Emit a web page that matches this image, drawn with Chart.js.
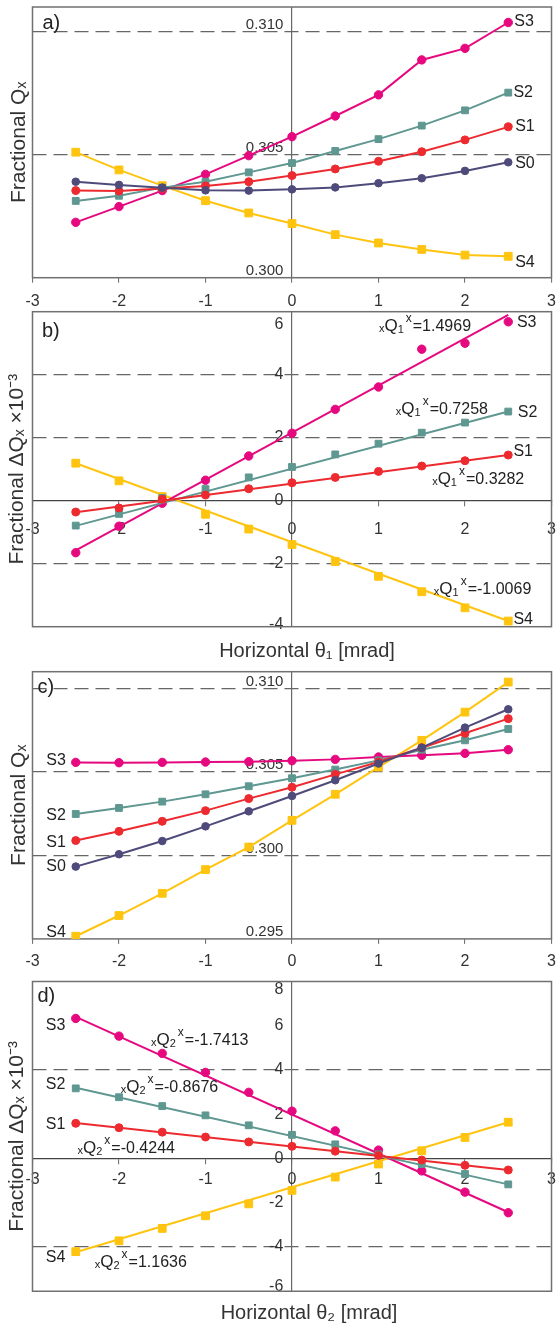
<!DOCTYPE html>
<html><head><meta charset="utf-8">
<script src="https://cdn.jsdelivr.net/npm/chart.js@4.4.1/dist/chart.umd.min.js"></script>
<style>
html,body{margin:0;padding:0;background:#fff;}
#wrap{position:relative;width:558px;height:1327px;overflow:hidden;}
canvas{position:absolute;left:0;top:0;}
</style></head><body>
<div id="wrap">
<canvas id="ca" width="558" height="1327"></canvas>
<canvas id="cb" width="558" height="1327"></canvas>
<canvas id="cc" width="558" height="1327"></canvas>
<canvas id="cd" width="558" height="1327"></canvas>
</div>
<script>
// ---------- data ----------
const theta = [-2.5,-2,-1.5,-1,-0.5,0,0.5,1,1.5,2,2.5];
const xTicks = [-3,-2,-1,0,1,2,3];
const xTickLabels = ['-3','-2','-1','0','1','2','3'];

// a) fractional Qx vs theta1
const a_S0 = [0.30390,0.30377,0.30366,0.30355,0.30354,0.30359,0.30367,0.30384,0.30404,0.30434,0.30469];
const a_S1 = [0.30354,0.30352,0.30362,0.30373,0.30390,0.30415,0.30442,0.30473,0.30512,0.30560,0.30613];
const a_S2 = [0.30312,0.30333,0.30366,0.30390,0.30428,0.30466,0.30515,0.30563,0.30618,0.30680,0.30752];
const a_S3 = [0.30225,0.30289,0.30354,0.30420,0.30496,0.30573,0.30657,0.30743,0.30885,0.30932,0.31037];
const a_S4 = [0.30510,0.30438,0.30374,0.30313,0.30263,0.30220,0.30175,0.30141,0.30115,0.30092,0.30087];
const aYTicks = [0.300,0.305,0.310];
const aYTickLabels = ['0.300','0.305','0.310'];

// b) delta Qx (x1e-3) vs theta1, with fitted lines (end values)
const b_S1 = [-0.36,-0.23,0.05,0.18,0.38,0.57,0.74,0.93,1.10,1.27,1.45];
const b_S2 = [-0.79,-0.42,0.09,0.37,0.74,1.07,1.47,1.81,2.16,2.48,2.83];
const b_S3 = [-1.65,-0.81,-0.08,0.65,1.42,2.14,2.90,3.61,4.81,5.00,5.68];
const b_S4 = [1.19,0.63,0.13,-0.43,-0.90,-1.39,-1.93,-2.40,-2.89,-3.40,-3.82];
const b_fit_S1 = [-0.37,1.45];
const b_fit_S2 = [-0.80,2.83];
const b_fit_S3 = [-1.58,5.90];
const b_fit_S4 = [1.19,-3.82];
const bSlopes = ['1.4969','0.7258','0.3282','-1.0069'];
const bYTicks = [-4,-2,0,2,4,6];
const bYTickLabels = ['-4','-2','0','2','4','6'];

// c) fractional Qx vs theta2
const c_S0 = [0.29933,0.30007,0.30086,0.30174,0.30264,0.30356,0.30450,0.30550,0.30645,0.30765,0.30875];
const c_S1 = [0.30089,0.30144,0.30204,0.30268,0.30340,0.30408,0.30485,0.30559,0.30645,0.30731,0.30819];
const c_S2 = [0.30248,0.30284,0.30322,0.30366,0.30414,0.30462,0.30514,0.30569,0.30633,0.30689,0.30757];
const c_S3 = [0.30557,0.30555,0.30557,0.30559,0.30561,0.30567,0.30575,0.30589,0.30599,0.30611,0.30633];
const c_S4 = [0.29516,0.29640,0.29773,0.29915,0.30050,0.30210,0.30366,0.30529,0.30689,0.30858,0.31038];
const cYTicks = [0.295,0.300,0.305,0.310];
const cYTickLabels = ['0.295','0.300','0.305','0.310'];

// d) delta Qx (x1e-3) vs theta2
const d_S1 = [1.59,1.39,1.19,0.97,0.75,0.55,0.33,0.14,-0.07,-0.31,-0.52];
const d_S2 = [3.17,2.77,2.37,1.95,1.50,1.07,0.64,0.19,-0.25,-0.70,-1.17];
const d_S3 = [6.33,5.53,4.75,3.89,2.99,2.14,1.25,0.38,-0.56,-1.52,-2.45];
const d_S4 = [-4.21,-3.72,-3.16,-2.59,-2.05,-1.44,-0.84,-0.25,0.35,0.95,1.64];
const d_fit_S1 = [1.60,-0.52];
const d_fit_S2 = [3.20,-1.17];
const d_fit_S3 = [6.40,-2.43];
const d_fit_S4 = [-4.24,1.64];
const dSlopes = ['-1.7413','-0.8676','-0.4244','1.1636'];
const dYTicks = [-6,-4,-2,0,2,4,6,8];
const dYTickLabels = ['-6','-4','-2','0','2','4','6','8'];

// ---------- styles ----------
const FONT = '"Liberation Sans", Arial, Helvetica, sans-serif';
Chart.defaults.font.family = FONT;
Chart.defaults.color = '#333';
const STY = {
  S0:{color:'#4e4b7b', style:'circle', r:3.8},
  S1:{color:'#ec2a2f', style:'circle', r:4},
  S2:{color:'#5f9791', style:'rect', r:4.8},
  S3:{color:'#e6087f', style:'circle', r:4.2},
  S4:{color:'#ffc40f', style:'rect', r:5.5}
};
const fitX = [theta[0], theta[theta.length-1]];

function zeroPad(s){ s.paddingLeft = 0; s.paddingRight = 0; s.paddingTop = 0; s.paddingBottom = 0; }

function drawAnno(ctx, x, yb, sub, val){
  const F = s => s + 'px ' + FONT;
  ctx.fillStyle = '#222';
  ctx.textAlign = 'left'; ctx.textBaseline = 'alphabetic';
  ctx.font = F(11); ctx.fillText('x', x, yb + 1);
  let cx = x + ctx.measureText('x').width;
  ctx.font = F(17); ctx.fillText('Q', cx, yb);
  cx += ctx.measureText('Q').width;
  ctx.font = F(11); ctx.fillText(sub, cx, yb + 2);
  cx += ctx.measureText(sub).width + 2;
  ctx.font = F(12); ctx.fillText('x', cx, yb - 9);
  cx += ctx.measureText('x').width + 1;
  ctx.font = F(16); ctx.fillText('=' + val, cx, yb);
}

const decor = {
  id:'decor',
  afterLayout(chart, args, o){
    if (o.xTitleShift && chart.scales.xt){ chart.scales.xt.left += o.xTitleShift; chart.scales.xt.right += o.xTitleShift; }
  },
  beforeDatasetsDraw(chart, args, o){
    const {ctx, chartArea:ca} = chart;
    ctx.save();
    ctx.strokeStyle = '#707070'; ctx.lineWidth = 1.5;
    ctx.strokeRect(ca.left, ca.top, ca.right - ca.left, ca.bottom - ca.top);
    ctx.restore();
  },
  afterDraw(chart, args, o){
    const {ctx, chartArea:ca, scales} = chart;
    const X = v => scales.x.getPixelForValue(v), Y = v => scales.y.getPixelForValue(v);
    ctx.save();
    ctx.fillStyle = '#222';
    ctx.font = '20px ' + FONT; ctx.textBaseline = 'middle'; ctx.textAlign = 'left';
    ctx.fillText(o.letter, ca.left + o.letterDx, ca.top + o.letterDy);
    ctx.font = '16px ' + FONT;
    (o.labels || []).forEach(l => { ctx.textAlign = l.align; ctx.textBaseline = 'middle'; ctx.fillText(l.text, X(l.x), Y(l.y)); });
    (o.annos || []).forEach(a => drawAnno(ctx, X(a.x), Y(a.y), a.sub, a.v));
    ctx.restore();
  }
};

function buildPanel(id, p){
  const datasets = [];
  p.series.forEach(s => {
    const st = STY[s.name];
    if (s.fit){
      datasets.push({data: fitX.map((t,i)=>({x:t, y:s.fit[i]})), showLine:true, borderColor:st.color, borderWidth:2, pointRadius:0, xAxisID:'x', yAxisID:'y'});
    }
    datasets.push({
      data: theta.map((t,i)=>({x:t, y:s.vals[i]})),
      showLine: !s.fit, borderColor: st.color, backgroundColor: st.color, borderWidth: 2,
      pointStyle: st.style, pointRadius: st.r, pointBorderColor: st.color, pointBackgroundColor: st.color,
      pointBorderWidth: 1, tension: 0, xAxisID:'x', yAxisID:'y'
    });
  });
  const nY = p.yTicks.length;
  const edge = p.yEdge || {top:0, bottom:0};
  const scales = {
    x: {
      type:'linear', axis:'x', min:-3, max:3,
      position: p.xCenter ? {y:0} : 'bottom',
      afterBuildTicks: s => { s.ticks = xTicks.map(v => ({value:v})); },
      afterFit: s => { zeroPad(s); if (!p.xCenter) s.height = p.boxBottom - p.bottom; },
      ticks:{autoSkip:false, maxRotation:0, padding:p.xPad, font:{size:16}, color:'#333', callback:(v,i)=>xTickLabels[i]},
      grid:{drawOnChartArea:true, color: c => (c.tick && c.tick.value === 0) ? '#666' : 'rgba(0,0,0,0)', lineWidth:1.2, drawTicks:true, tickLength:5, tickColor:'#666', tickWidth:1},
      border:{display: !!p.xCenter, color:'#444', width:1.3}
    },
    y: {
      type:'linear', axis:'y', min:p.yMin, max:p.yMax,
      position:{x:-0.1},
      afterBuildTicks: s => { s.ticks = p.yTicks.map(v => ({value:v})); },
      afterFit: zeroPad,
      ticks:{autoSkip:false, padding:0, labelOffset:p.yLabelOffset, color:'#333',
        font: c => {
          if (c.index === nY - 1 && edge.top) return {size:p.yFont, lineHeight:(2*edge.top) + 'px'};
          if (c.index === 0 && edge.bottom) return {size:p.yFont, lineHeight:(2*edge.bottom) + 'px'};
          return {size:p.yFont};
        },
        callback:(v,i)=>{
          const t = p.yTickLabels[i];
          if (i === nY - 1 && edge.top) return ['', t];
          if (i === 0 && edge.bottom) return [t, ''];
          return t;
        }},
      grid:{drawTicks:false, lineWidth:1.3, color: c => (c.tick && p.yDash.some(d => Math.abs(d - c.tick.value) < 1e-9)) ? '#666' : 'rgba(0,0,0,0)'},
      border:{display:false, dash:[14,7]}
    },
    yt: {
      type:'linear', axis:'y', position:'left', display:true,
      afterFit: s => { zeroPad(s); s.width = 32.5; },
      ticks:{display:false}, grid:{display:false}, border:{display:false},
      title:{display:true, text:p.yTitle, font:{size:21}, color:'#333', padding:{top:p.yTitlePad, bottom:0}}
    }
  };
  if (p.xTitle){
    scales.xt = {
      type:'linear', axis:'x', position:'bottom', display:true,
      afterFit: s => { zeroPad(s); s.height = p.boxBottom - p.bottom; },
      ticks:{display:false}, grid:{display:false}, border:{display:false},
      title:{display:true, text:p.xTitle, font:{size:20}, color:'#333', padding:{top:0, bottom:p.xTitlePad}}
    };
  }
  new Chart(document.getElementById(id), {
    type:'scatter',
    data:{datasets},
    options:{
      responsive:false, animation:false, devicePixelRatio:1,
      layout:{padding:{top:p.top, left:0, right:1.5, bottom:1327 - p.boxBottom}},
      scales,
      plugins:{legend:{display:false}, tooltip:{enabled:false},
        decor:{letter:p.letter, letterDx:p.letterDx, letterDy:p.letterDy, labels:p.labels, annos:p.annos, xTitleShift:p.xTitleShift||0}}
    },
    plugins:[decor]
  });
}

buildPanel('ca', {
  top:7, bottom:277.7, boxBottom:311, yMin:0.300, yMax:0.311,
  yTicks:aYTicks, yTickLabels:aYTickLabels, yDash:[0.305,0.310], yLabelOffset:-7, yFont:15,
  xCenter:false, xPad:9.4, yTitle:'Fractional Q\u2093', yTitlePad:7,
  letter:'a)', letterDx:10, letterDy:16,
  series:[{name:'S0',vals:a_S0},{name:'S1',vals:a_S1},{name:'S2',vals:a_S2},{name:'S3',vals:a_S3},{name:'S4',vals:a_S4}],
  labels:[
    {text:'S3', x:2.57, y:0.31041, align:'left'},
    {text:'S2', x:2.56, y:0.30754, align:'left'},
    {text:'S1', x:2.58, y:0.30614, align:'left'},
    {text:'S0', x:2.58, y:0.30465, align:'left'},
    {text:'S4', x:2.58, y:0.30061, align:'left'}
  ]
});

buildPanel('cb', {
  top:311.7, bottom:626.7, boxBottom:671, yMin:-4, yMax:6,
  yTicks:bYTicks, yTickLabels:bYTickLabels, yDash:[-2,2,4], yLabelOffset:0, yFont:16, yEdge:{top:13, bottom:2},
  xCenter:true, xPad:13.9, xTitle:'Horizontal \u03b8\u2081 [mrad]', xTitlePad:7.5, xTitleShift:15,
  yTitle:'Fractional \u0394Q\u2093 \u00d710\u207b\u00b3', yTitlePad:5,
  letter:'b)', letterDx:9.5, letterDy:20,
  series:[{name:'S1',vals:b_S1,fit:b_fit_S1},{name:'S2',vals:b_S2,fit:b_fit_S2},{name:'S3',vals:b_S3,fit:b_fit_S3},{name:'S4',vals:b_S4,fit:b_fit_S4}],
  labels:[
    {text:'S3', x:2.60, y:5.65, align:'left'},
    {text:'S2', x:2.61, y:2.81, align:'left'},
    {text:'S1', x:2.56, y:1.55, align:'left'},
    {text:'S4', x:2.56, y:-3.79, align:'left'}
  ],
  annos:[
    {x:1.005, y:5.39, sub:'1', v:bSlopes[0]},
    {x:1.20, y:2.74, sub:'1', v:bSlopes[1]},
    {x:1.62, y:0.53, sub:'1', v:bSlopes[2]},
    {x:1.64, y:-2.95, sub:'1', v:bSlopes[3]}
  ]
});

buildPanel('cc', {
  top:671.7, bottom:938.9, boxBottom:981, yMin:0.295, yMax:0.311,
  yTicks:cYTicks, yTickLabels:cYTickLabels, yDash:[0.300,0.305,0.310], yLabelOffset:-7, yFont:15,
  xCenter:false, xPad:8.2, yTitle:'Fractional Q\u2093', yTitlePad:7,
  letter:'c)', letterDx:5, letterDy:16,
  series:[{name:'S0',vals:c_S0},{name:'S1',vals:c_S1},{name:'S2',vals:c_S2},{name:'S3',vals:c_S3},{name:'S4',vals:c_S4}],
  labels:[
    {text:'S3', x:-2.615, y:0.30569, align:'right'},
    {text:'S2', x:-2.615, y:0.30240, align:'right'},
    {text:'S1', x:-2.615, y:0.30078, align:'right'},
    {text:'S0', x:-2.615, y:0.29931, align:'right'},
    {text:'S4', x:-2.615, y:0.29540, align:'right'}
  ]
});

buildPanel('cd', {
  top:981.5, bottom:1291.25, boxBottom:1327, yMin:-6, yMax:8,
  yTicks:dYTicks, yTickLabels:dYTickLabels, yDash:[-4,4], yLabelOffset:0, yFont:16, yEdge:{top:8.5, bottom:4.5},
  xCenter:true, xPad:6, xTitle:'Horizontal \u03b8\u2082 [mrad]', xTitlePad:1.2, xTitleShift:17,
  yTitle:'Fractional \u0394Q\u2093 \u00d710\u207b\u00b3', yTitlePad:5,
  letter:'d)', letterDx:5, letterDy:15,
  series:[{name:'S1',vals:d_S1,fit:d_fit_S1},{name:'S2',vals:d_S2,fit:d_fit_S2},{name:'S3',vals:d_S3,fit:d_fit_S3},{name:'S4',vals:d_S4,fit:d_fit_S4}],
  labels:[
    {text:'S3', x:-2.62, y:5.99, align:'right'},
    {text:'S2', x:-2.62, y:3.32, align:'right'},
    {text:'S1', x:-2.62, y:1.51, align:'right'},
    {text:'S4', x:-2.62, y:-4.50, align:'right'}
  ],
  annos:[
    {x:-1.63, y:5.12, sub:'2', v:dSlopes[0]},
    {x:-1.98, y:3.01, sub:'2', v:dSlopes[1]},
    {x:-2.48, y:0.23, sub:'2', v:dSlopes[2]},
    {x:-2.28, y:-4.89, sub:'2', v:dSlopes[3]}
  ]
});
</script>
</body></html>
